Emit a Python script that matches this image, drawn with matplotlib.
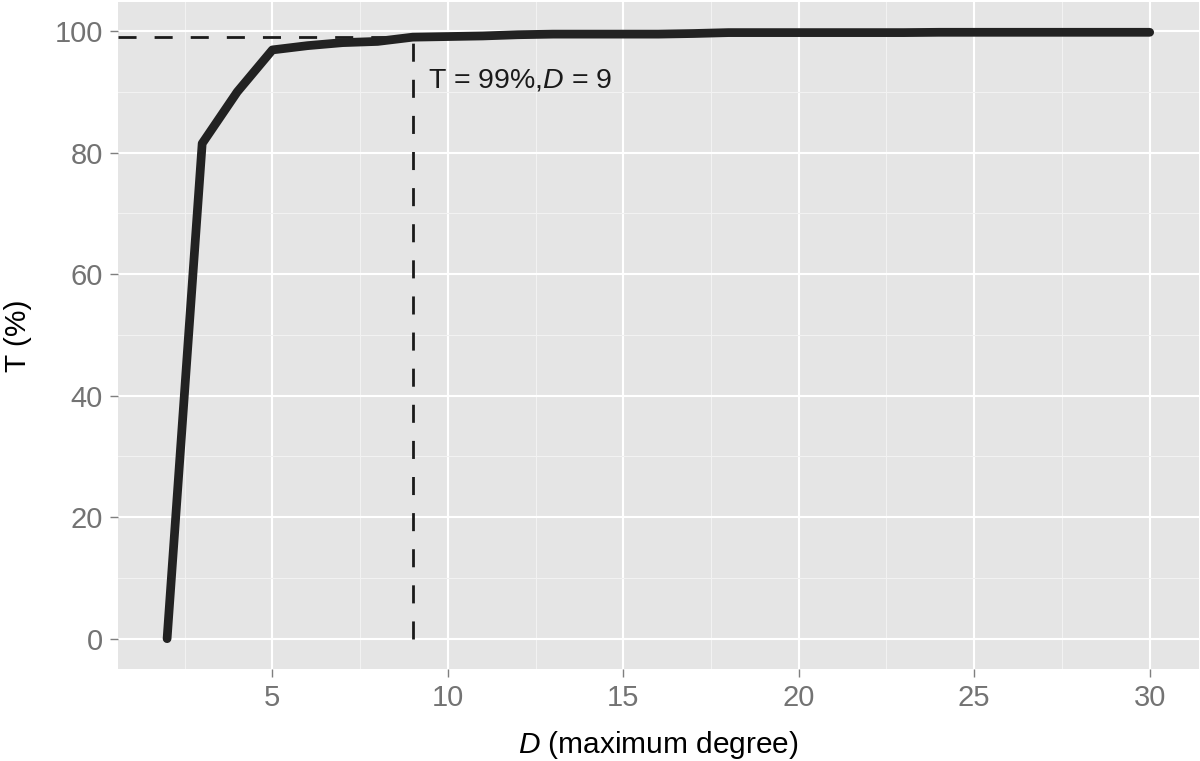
import numpy as np
import matplotlib
matplotlib.use("Agg")
import matplotlib.pyplot as plt
from matplotlib.ticker import MultipleLocator

plt.rcParams['font.family'] = ['Liberation Sans', 'DejaVu Sans']
plt.rcParams['mathtext.fontset'] = 'custom'
plt.rcParams['mathtext.rm'] = 'Liberation Sans'
plt.rcParams['mathtext.it'] = 'Liberation Sans:italic'

# data
degree = [2, 3, 4, 5, 6, 7, 8, 9, 10, 11, 12, 13, 14, 15, 16,
          17, 18, 19, 20, 21, 22, 23, 24, 25, 26, 27, 28, 29, 30]
coverage = [0.0, 81.5, 90.0, 96.9, 97.6, 98.1, 98.3, 99.0, 99.1, 99.2, 99.4, 99.5, 99.5, 99.5, 99.5,
            99.6, 99.75, 99.75, 99.75, 99.75, 99.75, 99.75, 99.8, 99.8, 99.8, 99.8, 99.8, 99.8, 99.8]
thr_T = 99
thr_D = 9
x_ticks = [5, 10, 15, 20, 25, 30]
y_ticks = [0, 20, 40, 60, 80, 100]

fig = plt.figure(figsize=(12, 7.61), dpi=100)
ax = fig.add_axes([0.0983, 0.1209, 0.9007, 0.8765])
ax.set_facecolor('#E5E5E5')

xmin, xmax = min(degree), max(degree)
ymin, ymax = min(coverage), max(coverage)
xpad = (xmax - xmin) * 0.05
ypad = (ymax - ymin) * 0.05
ax.set_xlim(xmin - xpad, xmax + xpad)
ax.set_ylim(ymin - ypad, ymax + ypad)

ax.xaxis.set_minor_locator(MultipleLocator(2.5))
ax.yaxis.set_minor_locator(MultipleLocator(10))
ax.set_xticks(x_ticks)
ax.set_yticks(y_ticks)

ax.grid(which='major', color='white', linewidth=1.5)
ax.grid(which='minor', color='#F2F2F2', linewidth=0.8)
ax.set_axisbelow(True)
for s in ax.spines.values():
    s.set_visible(False)

ax.tick_params(which='major', length=6, width=1, color='#7F7F7F',
               labelcolor='#737373', labelsize=21, pad=5)
ax.tick_params(which='minor', length=0)

# threshold guides
dash = (0, (6.5, 6.5))
ax.plot([xmin - xpad, thr_D], [thr_T, thr_T], color='#1a1a1a', lw=2.0,
        linestyle=dash, zorder=2)
ax.plot([thr_D, thr_D], [0, thr_T], color='#1a1a1a', lw=2.0,
        linestyle=dash, zorder=2)

ax.plot(degree, coverage, color='#222222', lw=6.3, solid_capstyle='round',
        solid_joinstyle='round', zorder=3)

ax.text(thr_D + 0.43, 91.8, r'T = 99%,$\mathit{D}$ = 9', fontsize=20.5,
        color='#1a1a1a', ha='left', va='center')

ax.set_xlabel(r'$\mathit{D}$ (maximum degree)', fontsize=21.5, labelpad=12)
ax.set_ylabel('T (%)', fontsize=21.5, labelpad=16)

fig.savefig('out.png', dpi=100)
